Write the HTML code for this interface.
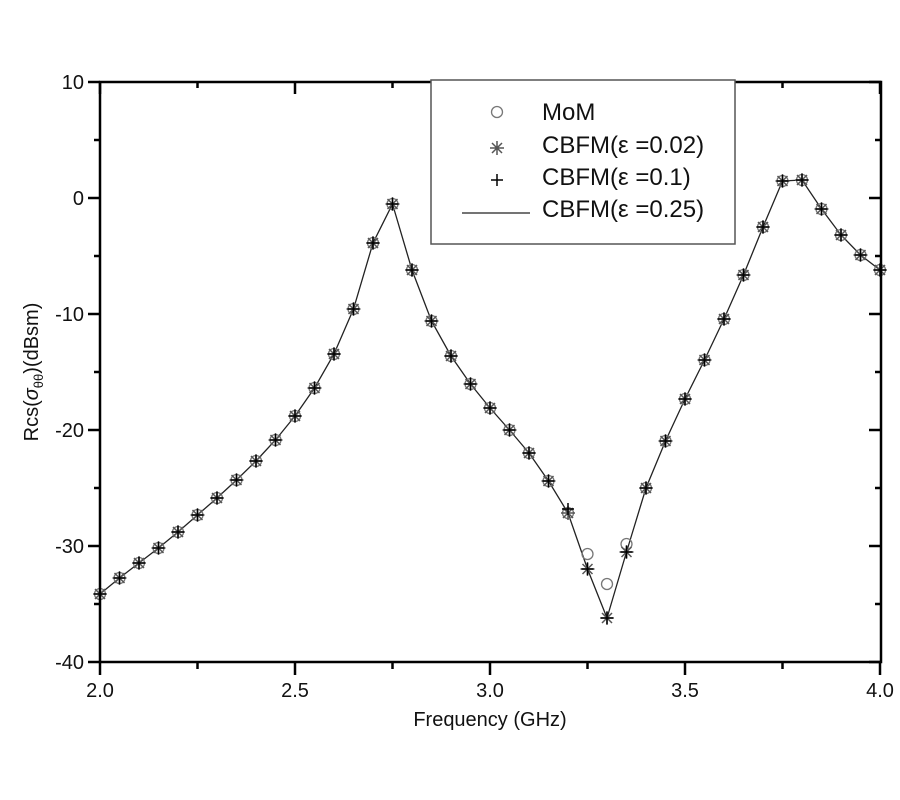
<!DOCTYPE html>
<html><head><meta charset="utf-8"><style>body{margin:0;background:#fff}svg{display:block}</style></head>
<body>
<svg id="s" width="900" height="800" xmlns="http://www.w3.org/2000/svg" font-family="Liberation Sans, sans-serif">
<rect width="900" height="800" fill="#fff"/>
<g id="plot"></g>
<g stroke="#000" stroke-width="2.5" fill="none">
<path d="M100,82 H881 V662 H100 Z"/>
</g>
<g id="ticks" stroke="#000" stroke-width="2.5"></g>
<g font-size="20" fill="#111">
<text x="84" y="89" text-anchor="end">10</text>
<text x="84" y="205" text-anchor="end">0</text>
<text x="84" y="321" text-anchor="end">-10</text>
<text x="84" y="437" text-anchor="end">-20</text>
<text x="84" y="553" text-anchor="end">-30</text>
<text x="84" y="669" text-anchor="end">-40</text>
<text x="100" y="697" text-anchor="middle">2.0</text>
<text x="295" y="697" text-anchor="middle">2.5</text>
<text x="490" y="697" text-anchor="middle">3.0</text>
<text x="685" y="697" text-anchor="middle">3.5</text>
<text x="880" y="697" text-anchor="middle">4.0</text>
<text x="490" y="726" text-anchor="middle">Frequency (GHz)</text>
<text transform="translate(38,372) rotate(-90)" text-anchor="middle">Rcs(<tspan font-style="italic">σ</tspan><tspan font-size="13" dy="5">θθ</tspan><tspan dy="-5">)(dBsm)</tspan></text>
</g>
<g>
<rect x="431" y="80" width="304" height="164" fill="#fff" stroke="#555" stroke-width="1.5"/>
<g font-size="24" fill="#111">
<text x="542" y="120">MoM</text>
<text x="542" y="153">CBFM(ε =0.02)</text>
<text x="542" y="185">CBFM(ε =0.1)</text>
<text x="542" y="217">CBFM(ε =0.25)</text>
</g>
<g id="leg"></g>
</g>
<script>
var ys=[594,578,563,548,532,515,498,480,461,440,416,388,354,309,243,204,270,321,356,384,408,430,453,481,513,569,618,552,488,441,399,360,319,275,227,181,180,209,235,255,270];
var ns="http://www.w3.org/2000/svg";
function el(p,t,a){var e=document.createElementNS(ns,t);for(var k in a)e.setAttribute(k,a[k]);p.appendChild(e);return e;}
var plot=document.getElementById('plot');
var pts=ys.map(function(y,i){return [100+i*19.5,y];});
el(plot,'polyline',{points:pts.map(function(p){return p.join(',')}).join(' '),fill:'none',stroke:'#222','stroke-width':1.3});
function circ(g,x,y){el(g,'circle',{cx:x,cy:y,r:5.5,fill:'none',stroke:'#777','stroke-width':1.3});}
function ast(g,x,y){var r=7;el(g,'path',{d:'M'+(x-r)+','+y+'h'+2*r+'M'+x+','+(y-r)+'v'+2*r+'M'+(x-5)+','+(y-5)+'l10,10M'+(x-5)+','+(y+5)+'l10,-10',stroke:'#555','stroke-width':1.5});}
function plus(g,x,y){var r=6;el(g,'path',{d:'M'+(x-r)+','+y+'h'+2*r+'M'+x+','+(y-r)+'v'+2*r,stroke:'#000','stroke-width':1.5});}
var mom={25:554,26:584,27:544};
pts.forEach(function(p,i){
 circ(plot,p[0],mom[i]||p[1]);
 ast(plot,p[0],p[1]);
 plus(plot,p[0],i==24?p[1]-4:p[1]);
});
var t=document.getElementById('ticks');
for(var i=0;i<=8;i++){var x=100+i*97.5;el(t,'line',{x1:x,y1:662,x2:x,y2:i%2?669:675});el(t,'line',{x1:x,y1:82,x2:x,y2:i%2?88:94});}
for(var j=0;j<=10;j++){var y=82+j*58;el(t,'line',{x1:100,y1:y,x2:j%2?94:88,y2:y});el(t,'line',{x1:881,y1:y,x2:j%2?875:869,y2:y});}
var lg=document.getElementById('leg');
circ(lg,497,112);ast(lg,497,148);plus(lg,497,180);
el(lg,'line',{x1:462,y1:213,x2:530,y2:213,stroke:'#222','stroke-width':1.3});
</script>
</svg>
</body></html>
